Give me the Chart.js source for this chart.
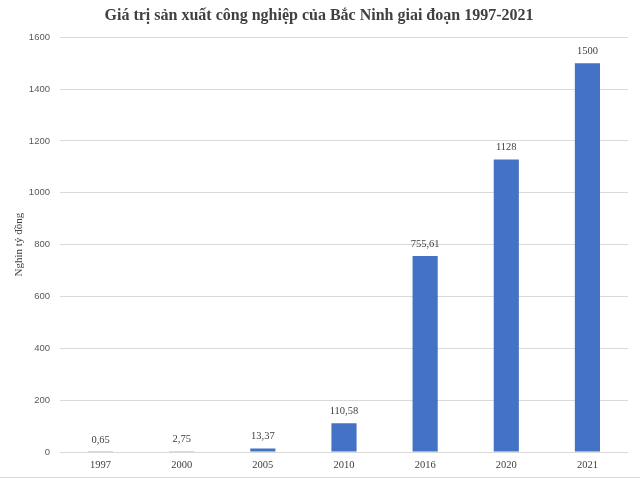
<!DOCTYPE html>
<html lang="vi">
<head>
<meta charset="utf-8">
<title>Giá trị sản xuất công nghiệp của Bắc Ninh</title>
<script src="https://cdn.jsdelivr.net/npm/chart.js@4/dist/chart.umd.min.js"></script>
<style>
  html, body { margin: 0; padding: 0; background: #fff; }
  #wrap { position: relative; width: 640px; height: 477px; border-bottom: 1px solid #d9d9d9; }
</style>
</head>
<body>
<div id="wrap"><canvas id="chart"></canvas></div>
<script>
const YEARS = ['1997', '2000', '2005', '2010', '2016', '2020', '2021'];
const VALUES = [0.65, 2.75, 13.37, 110.58, 755.61, 1128, 1500];
const TITLE = 'Giá trị sản xuất công nghiệp của Bắc Ninh giai đoạn 1997-2021';
const Y_TITLE = 'Nghìn tỷ đồng';

const BAR_COLOR = '#4472c4';
const GRID_COLOR = '#d9d9d9';
const SERIF = '"Liberation Serif", "Times New Roman", serif';
const SANS = '"Liberation Sans", Arial, sans-serif';

// Vietnamese style: decimal comma, no thousands separator.
function fmtValue(v) {
  return String(v).replace('.', ',');
}

// Value labels above each bar, drawn from the bar elements themselves.
const barLabels = {
  id: 'barLabels',
  afterDatasetsDraw(chart) {
    const { ctx } = chart;
    const meta = chart.getDatasetMeta(0);
    ctx.save();
    ctx.font = '10.5px ' + SERIF;
    ctx.fillStyle = '#404040';
    ctx.textAlign = 'center';
    ctx.textBaseline = 'middle';
    meta.data.forEach((bar, i) => {
      ctx.fillText(fmtValue(VALUES[i]), bar.x, bar.y - 12);
    });
    ctx.restore();
  },
};

// The title is centred on the whole picture, not on the padded box.
const centreTitle = {
  id: 'centreTitle',
  afterLayout(chart) {
    if (!chart.titleBlock) return;
    chart.titleBlock.left = 0;
    chart.titleBlock.right = 638;
  },
};

new Chart(document.getElementById('chart'), {
  type: 'bar',
  data: {
    labels: YEARS,
    datasets: [{
      data: VALUES,
      backgroundColor: BAR_COLOR,
      barPercentage: 0.31,
      categoryPercentage: 1,
    }],
  },
  options: {
    responsive: true,
    maintainAspectRatio: false,
    animation: false,
    layout: { padding: { left: 0, right: 12, top: 0, bottom: 0 } },
    plugins: {
      legend: { display: false },
      tooltip: { enabled: false },
      title: {
        display: true,
        text: TITLE,
        color: '#404040',
        font: { family: SERIF, size: 16, weight: 'bold', lineHeight: 1.2 },
        padding: { top: 6, bottom: 12 },
      },
    },
    scales: {
      x: {
        grid: { display: false, drawTicks: false },
        border: { display: false },
        ticks: { color: '#404040', font: { family: SERIF, size: 10.5 }, padding: 7 },
        afterFit: (scale) => { scale.height = 25; },
      },
      y: {
        min: 0,
        max: 1600,
        grid: { color: GRID_COLOR, drawTicks: false },
        border: { display: false },
        ticks: {
          stepSize: 200,
          color: '#595959',
          font: { family: SANS, size: 9.5 },
          padding: 10,
          callback: (v) => String(v),
        },
        title: {
          display: true,
          text: Y_TITLE,
          color: '#404040',
          font: { family: SERIF, size: 11 },
          padding: { top: 13, bottom: 0 },
        },
        afterFit: (scale) => { scale.width = 60; },
      },
    },
  },
  plugins: [barLabels, centreTitle],
});
</script>
</body>
</html>
